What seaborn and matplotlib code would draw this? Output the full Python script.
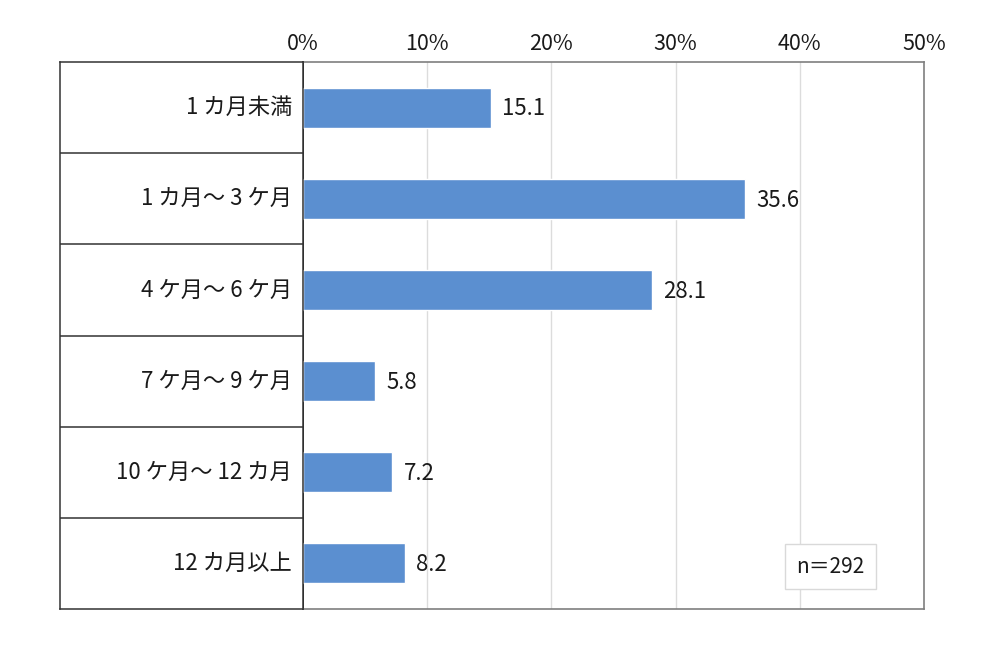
import matplotlib
matplotlib.use("Agg")
import matplotlib.pyplot as plt
import seaborn as sns
import pandas as pd

# data
categories = ["1 カ月未満", "1 カ月～ 3 ケ月", "4 ケ月～ 6 ケ月",
              "7 ケ月～ 9 ケ月", "10 ケ月～ 12 カ月", "12 カ月以上"]
shares = [15.1, 35.6, 28.1, 5.8, 7.2, 8.2]
x_ticks = [0, 10, 20, 30, 40, 50]
n_note = "n＝292"

df = pd.DataFrame({"category": categories, "share": shares})

sns.set_theme(style="white")
plt.rcParams["font.family"] = ["Noto Sans CJK JP", "DejaVu Sans"]

fig = plt.figure(figsize=(10, 6.46), dpi=100)
ax = fig.add_axes([0.303, 0.0573, 0.621, 0.8467])
ax_lab = fig.add_axes([0.06, 0.0573, 0.243, 0.8467])

sns.barplot(data=df, x="share", y="category", orient="h", color="#5B8FD0",
            saturation=1, width=0.44, ax=ax, zorder=3)

ax.set_xlim(0, 50)
ax.set_ylim(len(categories) - 0.5, -0.5)
ax.set_xticks(x_ticks)
ax.set_xticklabels([f"{t}%" for t in x_ticks], fontsize=15.5, color="#1a1a1a")
ax.xaxis.tick_top()
ax.tick_params(axis="x", length=0, pad=5)
ax.set_yticks([])
ax.set_xlabel("")
ax.set_ylabel("")
for t in x_ticks[1:-1]:
    ax.axvline(t, color="#dcdcdc", lw=1, zorder=1)

for sp in ["top", "right", "bottom"]:
    ax.spines[sp].set_color("#7f7f7f")
    ax.spines[sp].set_linewidth(1.2)
ax.spines["left"].set_color("#111111")
ax.spines["left"].set_linewidth(1.3)

for i, v in enumerate(shares):
    ax.annotate(f"{v:.1f}", xy=(v, i), xytext=(8, -1), textcoords="offset points",
                ha="left", va="center", fontsize=16, color="#1a1a1a")

ax.text(0.849, 0.077, n_note, transform=ax.transAxes, ha="center", va="center",
        fontsize=15, color="#1a1a1a",
        bbox=dict(boxstyle="square,pad=0.55", fc="white", ec="#d9d9d9", lw=1))

# left label table
ax_lab.set_ylim(len(categories) - 0.5, -0.5)
ax_lab.set_xlim(0, 1)
ax_lab.set_xticks([])
ax_lab.set_yticks([])
for i in range(1, len(categories)):
    ax_lab.axhline(i - 0.5, color="#333333", lw=1.1)
for i, c in enumerate(categories):
    ax_lab.text(0.955, i, c, ha="right", va="center", fontsize=16, color="#1a1a1a")
for sp in ax_lab.spines.values():
    sp.set_color("#333333")
    sp.set_linewidth(1.1)

fig.savefig("out.png", dpi=100, facecolor="white")
